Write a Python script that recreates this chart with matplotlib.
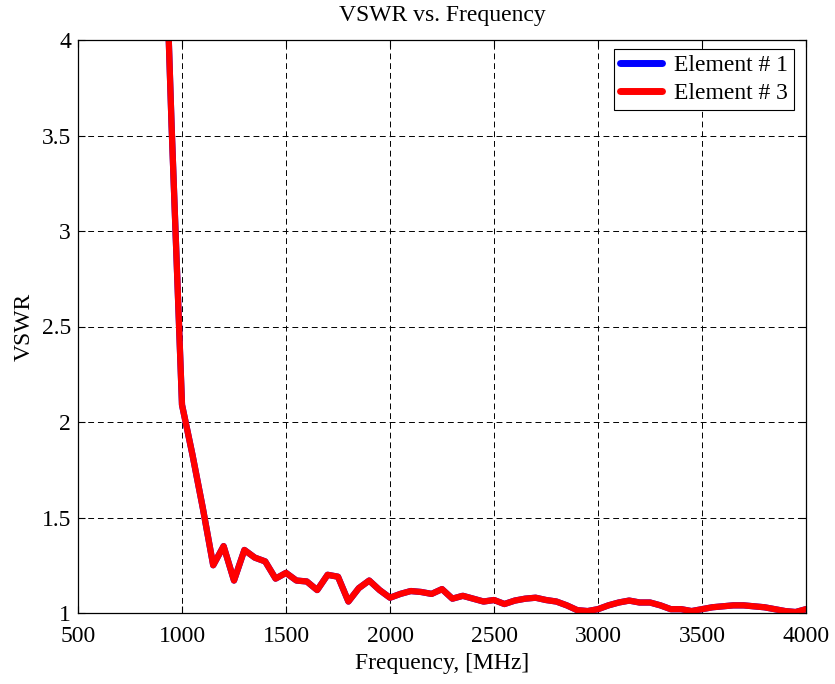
import matplotlib
matplotlib.use("Agg")
import matplotlib.pyplot as plt

freq = [900, 950, 1000, 1050, 1100, 1150, 1200, 1250, 1300, 1350, 1400, 1450, 1500,
        1550, 1600, 1650, 1700, 1750, 1800, 1850, 1900, 1950, 2000, 2050, 2100,
        2150, 2200, 2250, 2300, 2350, 2400, 2450, 2500, 2550, 2600, 2650, 2700,
        2750, 2800, 2850, 2900, 2950, 3000, 3050, 3100, 3150, 3200, 3250, 3300,
        3350, 3400, 3450, 3500, 3550, 3600, 3650, 3700, 3750, 3800, 3850, 3900,
        3950, 4000]
vswr = [5.2, 3.55, 2.09, 1.83, 1.55, 1.25, 1.35, 1.17, 1.33, 1.29, 1.27, 1.18, 1.21,
        1.17, 1.165, 1.12, 1.20, 1.19, 1.06, 1.13, 1.17, 1.12, 1.08, 1.10, 1.115,
        1.11, 1.10, 1.125, 1.075, 1.09, 1.075, 1.06, 1.068, 1.047, 1.065, 1.075, 1.08,
        1.068, 1.06, 1.04, 1.015, 1.01, 1.02, 1.04, 1.055, 1.065, 1.055, 1.055, 1.04,
        1.02, 1.02, 1.01, 1.02, 1.03, 1.035, 1.04, 1.04, 1.035, 1.03, 1.02, 1.01,
        1.005, 1.02]
vswr_el1 = list(vswr)
vswr_el3 = list(vswr)

xticks = [500, 1000, 1500, 2000, 2500, 3000, 3500, 4000]
yticks = [1, 1.5, 2, 2.5, 3, 3.5, 4]
ytick_labels = ["1", "1.5", "2", "2.5", "3", "3.5", "4"]

plt.rcParams['font.family'] = ['Liberation Serif', 'DejaVu Serif']
FS = 17

fig = plt.figure(figsize=(8.35, 6.84), dpi=100)
ax = fig.add_axes([78/835, 1 - 613/684, (806-78)/835, (613-40)/684])

ax.plot(freq, vswr_el1, color='#0000ff', lw=4.5, label='Element # 1', solid_joinstyle='round')
ax.plot(freq, vswr_el3, color='#ff0000', lw=4.5, label='Element # 3', solid_joinstyle='round')

ax.set_xlim(500, 4000)
ax.set_ylim(1, 4)
ax.set_xticks(xticks)
ax.set_xticklabels([str(t) for t in xticks])
ax.set_yticks(yticks)
ax.set_yticklabels(ytick_labels)
ax.tick_params(direction='in', top=True, right=True, length=5, width=0.8, labelsize=FS)
ax.tick_params(axis='x', pad=9.5)
ax.tick_params(axis='y', pad=5)
ax.grid(True, color='black', linestyle=(0, (6, 4)), linewidth=0.7)
for s in ax.spines.values():
    s.set_linewidth(0.9)

fig.text(442/835, 1 - 16/684, 'VSWR vs. Frequency', fontsize=FS, ha='center', va='center')
ax.set_xlabel('Frequency, [MHz]', fontsize=FS, labelpad=4)
ax.set_ylabel('VSWR', fontsize=FS, labelpad=5)

leg = ax.legend(loc='upper right', bbox_to_anchor=(794/835, 1 - 49/684),
                bbox_transform=fig.transFigure, borderaxespad=0,
                fancybox=False, framealpha=1, edgecolor='black',
                handlelength=1.8, handletextpad=0.5, labelspacing=0.25,
                borderpad=0.25, fontsize=FS)
leg.get_frame().set_linewidth(0.8)
for h in leg.get_lines():
    h.set_linewidth(5)
    h.set_solid_capstyle('round')

fig.savefig('out.png', dpi=100)
